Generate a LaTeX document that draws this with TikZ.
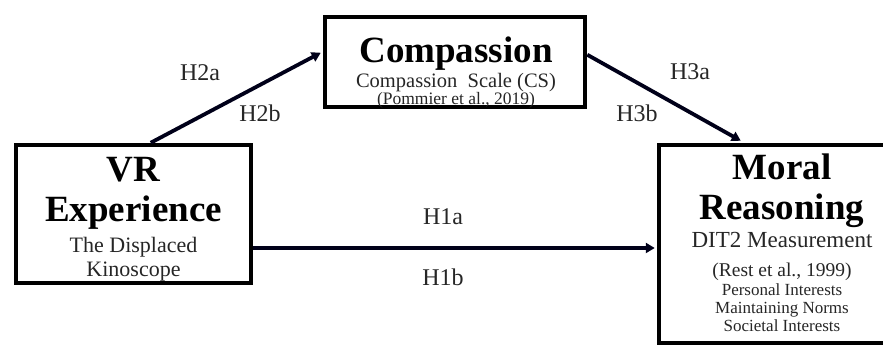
\documentclass[tikz,border=0pt]{standalone}
\usepackage{fontspec}
\setmainfont{Liberation Serif}
\usetikzlibrary{arrows.meta}
\begin{document}
\begin{tikzpicture}[x=1pt,y=1pt,
  box/.style={draw=black, line width=4.5pt, inner sep=0pt, fill=none},
  head/.style={anchor=base, inner sep=0pt, font=\fontsize{37}{40}\selectfont\bfseries},
  subA/.style={anchor=base, inner sep=0pt, font=\fontsize{22}{24}\selectfont, text=black!85},
  subC/.style={anchor=base, inner sep=0pt, font=\fontsize{17}{19}\selectfont, text=black!85},
  hlab/.style={inner sep=0pt, font=\fontsize{24}{26}\selectfont, text=black!85},
  arr/.style={draw=black!90!blue, line width=3.8pt, -{Triangle[length=9pt,width=10pt]}}
]
\useasboundingbox (0,0) rectangle (883,347);
% boxes
\node[box, minimum width=235pt, minimum height=138pt] (vr) at (133.5,133) {};
\node[box, minimum width=260pt, minimum height=90pt] (comp) at (455,285) {};
\node[box, minimum width=248pt, minimum height=198pt] (moral) at (783,103) {};
% VR text
\node[head] (vr1) at (133.5,165) {VR};
\node[head] (vr2) at (133.5,125) {Experience};
\node[subA] (vr3) at (133.5,94) {The Displaced};
\node[subA] (vr4) at (133.5,70) {Kinoscope};
% Compassion text
\node[head] (c1) at (456,284) {Compassion};
\node[font=\fontsize{20.5}{22}\selectfont, anchor=base, inner sep=0pt, text=black!85] (c2) at (456,259.5) {Compassion\ \ Scale (CS)};
\node[font=\fontsize{17.5}{19}\selectfont, anchor=base, inner sep=0pt, text=black!85] (c3) at (456,242.5) {(Pommier et al., 2019)};
% Moral text
\node[head] (m1) at (782,167) {Moral};
\node[head] (m2) at (782,127) {Reasoning};
\node[font=\fontsize{23}{25}\selectfont, anchor=base, inner sep=0pt, text=black!85] (m3) at (782,99) {DIT2 Measurement};
\node[font=\fontsize{19.5}{21}\selectfont, anchor=base, inner sep=0pt, text=black!85] (m4) at (782,70) {(Rest et al., 1999)};
\node[subC] (m5) at (782,51) {Personal Interests};
\node[subC] (m6) at (782,33) {Maintaining Norms};
\node[subC] (m7) at (782,15) {Societal Interests};
% arrows
\coordinate (h1y) at (0,99);
\draw[arr] ([xshift=137pt]vr.north west) -- ([yshift=-38pt,xshift=-2pt]comp.north west);
\draw[arr] ([yshift=-40pt]comp.north east) -- ([xshift=84pt,yshift=2pt]moral.north west);
\draw[arr] (vr.east |- h1y) -- ([xshift=-2pt]moral.west |- h1y);
% labels
\node[hlab] (h2a) at (200,274) {H2a};
\node[hlab] (h2b) at (260,234) {H2b};
\node[hlab] (h3a) at (690,275) {H3a};
\node[hlab] (h3b) at (637,234) {H3b};
\node[hlab] (h1a) at (443,130) {H1a};
\node[hlab] (h1b) at (443,70) {H1b};
\end{tikzpicture}
\end{document}
